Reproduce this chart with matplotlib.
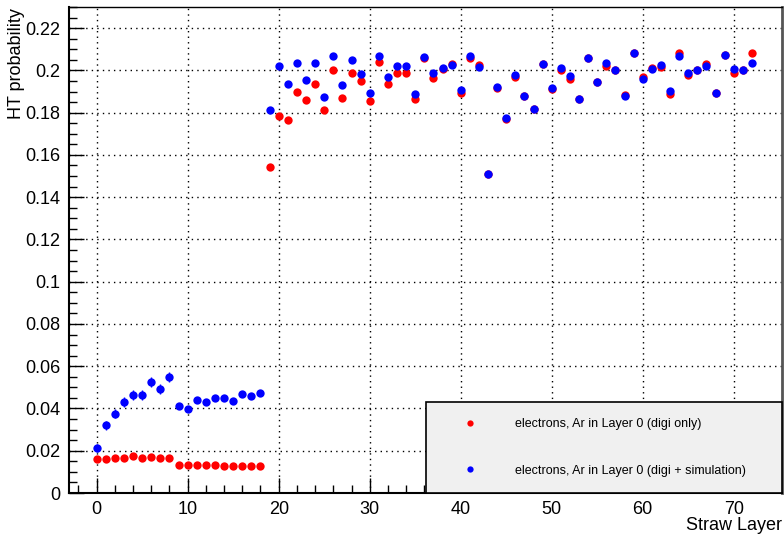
import matplotlib
matplotlib.use("Agg")
import matplotlib.pyplot as plt
from matplotlib.ticker import MultipleLocator, FuncFormatter

plt.rcParams['font.family'] = ['Liberation Sans', 'DejaVu Sans']

layers = list(range(73))

red_vals = [
    0.0162, 0.0162, 0.0167, 0.0164, 0.0174, 0.0164, 0.0172, 0.0164, 0.0164, 0.0131,
    0.0133, 0.0134, 0.0131, 0.0131, 0.0126, 0.0130, 0.0130, 0.0130, 0.0126, 0.1542,
    0.1782, 0.1765, 0.1896, 0.1859, 0.1934, 0.1812, 0.2003, 0.1867, 0.1987, 0.1951,
    0.1855, 0.2042, 0.1937, 0.1990, 0.1986, 0.1863, 0.2061, 0.1963, 0.2006, 0.2030,
    0.1894, 0.2060, 0.2025, 0.1508, 0.1918, 0.1770, 0.1970, 0.1878, 0.1816, 0.2030,
    0.1914, 0.2001, 0.1960, 0.1864, 0.2060, 0.1943, 0.2022, 0.2003, 0.1883, 0.2083,
    0.1970, 0.2009, 0.2014, 0.1888, 0.2081, 0.1976, 0.2002, 0.2028, 0.1894, 0.2072,
    0.1990, 0.2001, 0.2083,
]

blue_vals = [
    0.0214, 0.0320, 0.0375, 0.0430, 0.0464, 0.0464, 0.0524, 0.0491, 0.0550, 0.0413,
    0.0397, 0.0438, 0.0430, 0.0449, 0.0448, 0.0435, 0.0468, 0.0459, 0.0473, 0.1814,
    0.2020, 0.1937, 0.2036, 0.1953, 0.2036, 0.1874, 0.2069, 0.1932, 0.2050, 0.1981,
    0.1891, 0.2069, 0.1971, 0.2022, 0.2022, 0.1888, 0.2064, 0.1990, 0.2011, 0.2025,
    0.1907, 0.2068, 0.2017, 0.1511, 0.1921, 0.1774, 0.1978, 0.1880, 0.1818, 0.2031,
    0.1916, 0.2012, 0.1974, 0.1864, 0.2060, 0.1946, 0.2033, 0.2003, 0.1877, 0.2080,
    0.1960, 0.2005, 0.2026, 0.1903, 0.2067, 0.1986, 0.2001, 0.2020, 0.1894, 0.2072,
    0.2005, 0.2001, 0.2033,
]

blue_err = [
    0.0020, 0.0020, 0.0021, 0.0022, 0.0022, 0.0022, 0.0023, 0.0023, 0.0023, 0.0012,
    0.0012, 0.0012, 0.0012, 0.0012, 0.0012, 0.0012, 0.0012, 0.0012, 0.0012,
] + [0.0010] * 54

red_err = [0.0008] * 19 + [0.0010] * 54

labels = ["electrons, Ar in Layer 0 (digi only)",
          "electrons, Ar in Layer 0 (digi + simulation)"]

fig = plt.figure(figsize=(7.84, 5.37), dpi=100)
W, H = 784, 537
ax_l, ax_r, ax_t, ax_b = 69, 782, 7, 493
ax = fig.add_axes([ax_l / W, 1 - ax_b / H, (ax_r - ax_l) / W, (ax_b - ax_t) / H])

ax.errorbar(layers, red_vals, yerr=red_err, fmt='o', color='#ff0000', ms=6,
            elinewidth=1, capsize=2, mew=0, label=labels[0], zorder=3)
ax.errorbar(layers, blue_vals, yerr=blue_err, fmt='o', color='#0000ff', ms=6,
            elinewidth=1, capsize=2, mew=0, label=labels[1], zorder=4)

ax.set_xlim(-3.04, 75.3)
ax.set_ylim(0, 0.23)

ax.xaxis.set_major_locator(MultipleLocator(10))
ax.xaxis.set_minor_locator(MultipleLocator(2))
ax.yaxis.set_major_locator(MultipleLocator(0.02))
ax.yaxis.set_minor_locator(MultipleLocator(0.005))

def yfmt(v, pos):
    if abs(v) < 1e-9:
        return "0"
    s = ("%.2f" % v).rstrip('0')
    return s
ax.yaxis.set_major_formatter(FuncFormatter(yfmt))

ax.tick_params(which='both', direction='in', top=False, right=False, labelsize=13,
               color='black')
ax.tick_params(which='major', length=11, width=1, pad=6)
ax.tick_params(which='minor', length=6, width=1)

ax.grid(True, which='major', linestyle=(0, (1, 3)), color='black', linewidth=1)
ax.set_axisbelow(True)

for s in ax.spines.values():
    s.set_color('black')
    s.set_linewidth(1)
ax.spines['left'].set_linewidth(1.5)
ax.spines['bottom'].set_linewidth(1.5)
ax.spines['right'].set_color('#555555')
ax.spines['right'].set_linewidth(2)

ax.set_xlabel("Straw Layer", fontsize=13, ha='right')
ax.xaxis.set_label_coords(1.0, -0.05)
ax.set_ylabel("HT probability", fontsize=13, ha='right', va='center')
ax.yaxis.set_label_coords(-0.073, 0.997)

leg = ax.legend(loc='lower left', bbox_to_anchor=(0.5007, 0.0, 0.4993, 0.187),
                mode='expand', borderaxespad=0, fancybox=False, framealpha=1,
                facecolor='#f0f0f0', edgecolor='black', fontsize=9,
                labelspacing=2.75, borderpad=1.3, handlelength=4.4, handletextpad=1.45,
                markerscale=0.75)
leg.get_frame().set_linewidth(1.2)
for h in leg.legend_handles:
    try:
        h.set_linewidth(0)
    except Exception:
        pass

fig.savefig("out.png", dpi=100)
